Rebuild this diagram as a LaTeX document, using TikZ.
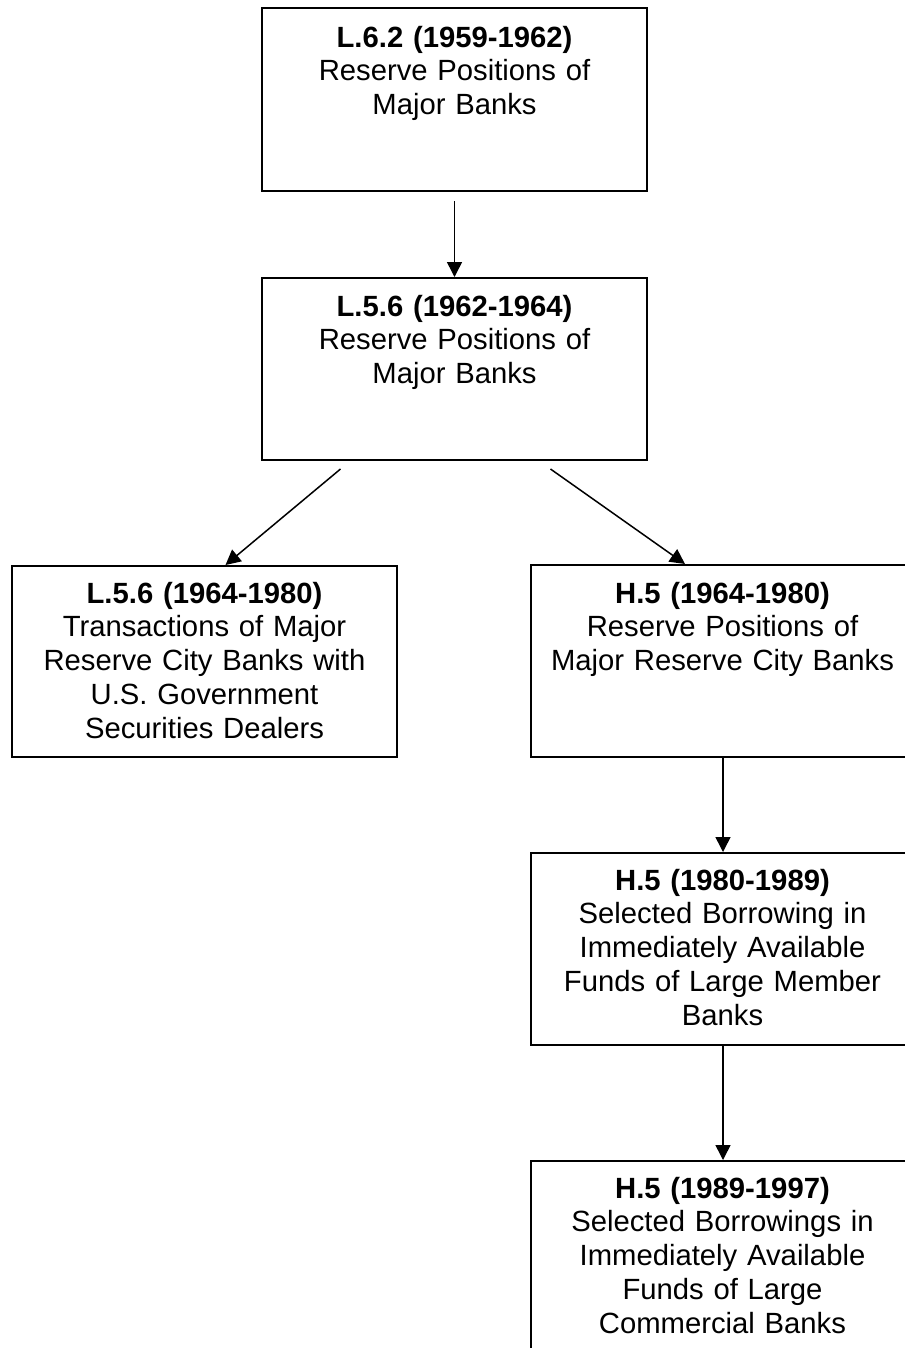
\documentclass[tikz,border=0pt]{standalone}
\usepackage{fontspec}
\setmainfont{Liberation Sans}
\usetikzlibrary{arrows.meta,calc}
\tikzset{
	box/.style={draw, line width=0.8pt, minimum width=154pt, inner sep=0pt},
	txt/.style={text width=150pt, align=center, inner sep=0pt, anchor=base, font=\fontsize{11.7pt}{13.5pt}\selectfont},
	arr/.style={-{Triangle[length=6pt,width=6pt]}, line width=0.6pt}
}
\begin{document}
\begin{tikzpicture}[x=0.4pt,y=-0.4pt]
			\useasboundingbox (0,0) rectangle (905,1348);
			
			\node[box, minimum height=73.2pt] (b1) at (454.5,99.5) {};
			\node[txt] (t1) at (454.5,47) {\textbf{L.6.2 (1959-1962)}\\Reserve Positions of\\Major Banks};
			
			\node[box, minimum height=72.8pt] (b2) at (454.5,369) {};
			\node[txt] (t2) at (454.5,316) {\textbf{L.5.6 (1962-1964)}\\Reserve Positions of\\Major Banks};
			
			\node[box, minimum height=76.4pt] (b3) at (204.5,661.5) {};
			\node[txt] (t3) at (204.5,603) {\textbf{L.5.6 (1964-1980)}\\Transactions of Major\\Reserve City Banks with\\U.S. Government\\Securities Dealers};
			
			\node[box, minimum height=76.8pt] (b4) at (723,661) {};
			\node[txt] (t4) at (722.5,603) {\textbf{H.5 (1964-1980)}\\Reserve Positions of\\Major Reserve City Banks};
			
			\node[box, minimum height=76.8pt] (b5) at (723,949) {};
			\node[txt] (t5) at (722.5,890) {\textbf{H.5 (1980-1989)}\\Selected Borrowing in\\Immediately Available\\Funds of Large Member\\Banks};
			
			\node[box, minimum height=79.6pt] (b6) at (723,1260.5) {};
			\node[txt] (t6) at (722.5,1198) {\textbf{H.5 (1989-1997)}\\Selected Borrowings in\\Immediately Available\\Funds of Large\\Commercial Banks};
			
			\draw[arr, shorten <=3.6pt] (b1) -- (b2);
			\draw[arr] ($(b2.south)+(-114,8)$) -- ([xshift=8.4pt]b3.north);
			\draw[arr] ($(b2.south)+(96,8)$) -- ([xshift=-15.2pt]b4.north);
			\draw[arr] (b4) -- (b5);
			\draw[arr] (b5) -- (b6);
\end{tikzpicture}
\end{document}
